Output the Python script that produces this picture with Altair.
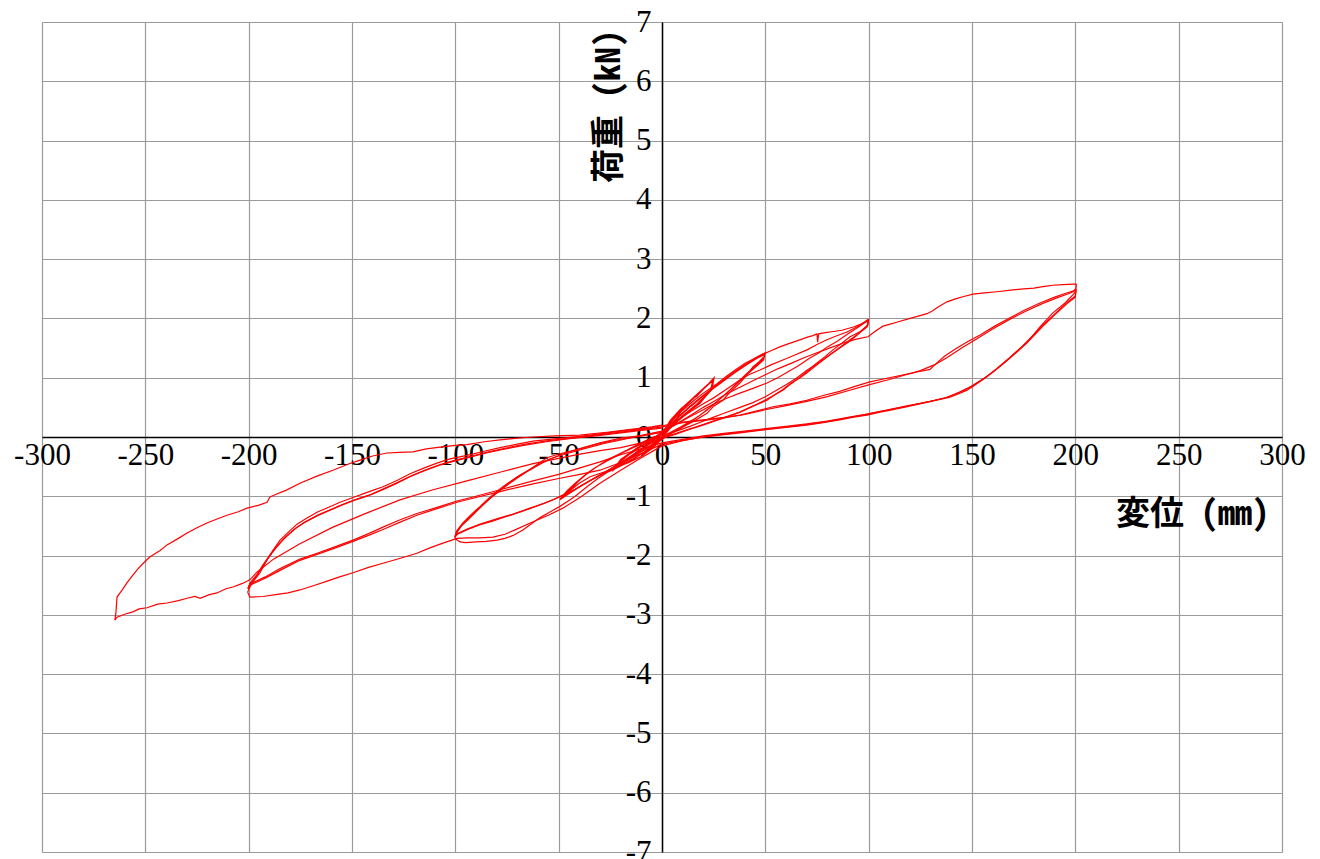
import altair as alt
import pandas as pd

# Load-displacement record of a cyclic test: displacement (mm), load (kN).
# Each branch is one loading or unloading leg, listed in test order.

cyc10 = [(0, 0.0), (5, 0.28), (10, 0.5), (9, 0.42), (5, 0.2), (0, 0.0), (-5, -0.15), (-10, -0.32),
         (-8, -0.24), (-4, -0.1), (0, 0.06), (5, 0.28), (10, 0.48), (8, 0.36), (4, 0.15), (0, -0.02),
         (-5, -0.18), (-10, -0.33), (-7, -0.2), (-3, -0.06), (0, 0.05)]

cyc25 = [(0, 0.05), (4, 0.28), (8.7, 0.46), (12.5, 0.58), (16.9, 0.69), (21, 0.84), (25.2, 1.0),
         (24.2, 0.8), (21, 0.68), (18.4, 0.57), (14, 0.45), (10.2, 0.34), (6, 0.22), (2.4, 0.12),
         (-3, -0.02), (-8, -0.17), (-14, -0.3), (-19, -0.42), (-24.2, -0.58), (-21, -0.44),
         (-16, -0.3), (-10, -0.16), (-4, -0.03), (0, 0.07), (5, 0.3), (10, 0.5), (15, 0.66),
         (20, 0.82), (24.8, 0.97), (24, 0.82), (19, 0.62), (14, 0.46), (8, 0.28), (2, 0.1),
         (-4, -0.06), (-10, -0.2), (-16, -0.35), (-24, -0.56), (-20, -0.4), (-14, -0.24),
         (-7, -0.1), (0, 0.06), (6, 0.32), (12, 0.54), (18, 0.74), (24.5, 0.95), (23.5, 0.78),
         (17, 0.56), (10, 0.36), (3, 0.14), (-3, -0.02), (-10, -0.22), (-17, -0.38),
         (-24, -0.57), (-20, -0.38), (-12, -0.18), (-5, -0.05), (0, 0.05)]

cyc50 = [(0, 0.05), (5.6, 0.33), (10, 0.45), (15.3, 0.61), (20, 0.74), (26.6, 0.9), (31, 1.02),
         (36.3, 1.15), (40, 1.24), (44.4, 1.32), (47, 1.37), (49.8, 1.42),
         (49.5, 1.36), (47, 1.27), (44, 1.18), (41, 1.05), (37.7, 0.91), (33, 0.76), (29.5, 0.62),
         (25, 0.52), (21.8, 0.4), (16, 0.28), (10.2, 0.17), (5, 0.07), (0.5, -0.02),
         (-5, -0.2), (-10.6, -0.34), (-16, -0.43), (-21.8, -0.51), (-28, -0.59), (-34.8, -0.67),
         (-40, -0.78), (-44, -0.89), (-47, -0.97), (-49.4, -1.06),
         (-47, -0.96), (-43, -0.84), (-40, -0.73), (-36.3, -0.61), (-31, -0.49), (-26.6, -0.39),
         (-21, -0.29), (-16.9, -0.22), (-12, -0.13), (-7.3, -0.05), (0.5, 0.07),
         (6, 0.28), (13, 0.5), (20, 0.7), (27, 0.88), (34, 1.06), (40, 1.2), (45, 1.31),
         (49.8, 1.4), (49.4, 1.33), (46, 1.22), (42, 1.1), (38, 0.97), (33, 0.8), (28, 0.64),
         (22, 0.46), (16, 0.31), (9, 0.17), (3, 0.06), (-2, -0.05), (-8, -0.24), (-14, -0.38),
         (-20, -0.49), (-27, -0.6), (-34, -0.72), (-40, -0.84), (-45, -0.95), (-49.2, -1.04),
         (-46, -0.91), (-42, -0.78), (-38, -0.66), (-33, -0.53), (-28, -0.43), (-22, -0.32),
         (-16, -0.21), (-10, -0.12), (-4, -0.02), (1, 0.07),
         (7, 0.3), (14, 0.52), (21, 0.72), (28, 0.9), (35, 1.08), (41, 1.22), (46, 1.33),
         (49.6, 1.39), (49.2, 1.3), (45, 1.17), (40, 1.02), (35, 0.86), (30, 0.7), (24, 0.52),
         (18, 0.36), (11, 0.2), (5, 0.08), (0, -0.04), (-6, -0.2), (-12, -0.33), (-19, -0.46),
         (-26, -0.58), (-33, -0.7), (-39, -0.82), (-44, -0.93), (-49, -1.05),
         (-45, -0.9), (-41, -0.76), (-37, -0.64), (-32, -0.51), (-26, -0.39), (-20, -0.28),
         (-14, -0.18), (-8, -0.08), (0, 0.07)]

# first excursion to +100 along the envelope
env100 = [(0, 0.07), (7, 0.31), (14, 0.53), (21, 0.73), (28, 0.92), (35, 1.1), (41, 1.24),
          (46, 1.34), (49.8, 1.41), (53, 1.46), (57, 1.52), (61, 1.57), (66, 1.63), (70, 1.68),
          (73, 1.71), (75, 1.74), (75.3, 1.6), (75.8, 1.74), (79, 1.76), (83, 1.78), (87, 1.8),
          (90, 1.83), (93, 1.86), (96, 1.9), (98, 1.94), (100, 1.99)]

unl100_a = [(100, 1.99), (99.6, 1.88), (97, 1.8), (94.4, 1.72), (91, 1.62), (86, 1.5), (82.7, 1.42),
            (78, 1.3), (75, 1.22), (70, 1.08), (66.8, 1.0), (62, 0.9), (58.5, 0.8), (54, 0.7),
            (50.8, 0.64), (44, 0.52), (37.7, 0.42), (30, 0.32), (24.7, 0.26), (18, 0.18),
            (13.5, 0.13), (7, 0.05), (0.5, -0.02)]

neg100_a = [(0.5, -0.02), (-5, -0.15), (-10.6, -0.26), (-16, -0.38), (-21, -0.5), (-26.6, -0.6),
            (-31, -0.7), (-36.3, -0.84), (-42, -1.0), (-45, -1.07), (-49.4, -1.17), (-54, -1.26),
            (-59, -1.36), (-63, -1.46), (-67.3, -1.57), (-72, -1.66), (-76, -1.71), (-79.8, -1.74),
            (-85, -1.76), (-90, -1.77), (-95, -1.78), (-97.7, -1.77), (-99.5, -1.73), (-100.2, -1.7)]

ret100_a = [(-100.2, -1.7), (-99.2, -1.6), (-96.3, -1.45), (-93, -1.33), (-91.5, -1.28), (-88, -1.17),
            (-84.7, -1.06), (-81, -0.95), (-77, -0.84), (-73, -0.74), (-68.7, -0.64), (-65, -0.57),
            (-62.4, -0.51), (-59, -0.43), (-55.7, -0.35), (-51, -0.3), (-47.9, -0.27),
            (-44.5, -0.24), (-40, -0.2), (-30, -0.1), (-20, -0.02), (-10.6, 0.02), (0.5, 0.08)]

pos100_b = [(0.5, 0.08), (6, 0.2), (13.5, 0.34), (20, 0.46), (24.7, 0.55), (31, 0.65), (37.7, 0.74),
            (44, 0.82), (50.8, 0.91), (56, 1.0), (61, 1.1), (66, 1.2), (71, 1.32), (76, 1.42),
            (80, 1.52), (85, 1.62), (90, 1.74), (94, 1.83), (97, 1.9), (99.8, 1.97)]

unl100_b = [(99.8, 1.97), (99.3, 1.86), (95, 1.74), (91, 1.64), (86, 1.51), (80, 1.36), (75, 1.24),
            (70, 1.12), (65, 0.99), (60, 0.88), (55, 0.78), (50, 0.68), (44, 0.58), (37.7, 0.5),
            (30, 0.4), (24.7, 0.33), (18, 0.24), (13.5, 0.18), (7, 0.1), (0.5, 0.02)]

neg100_b = [(0.5, 0.02), (-5, -0.1), (-10, -0.2), (-15, -0.32), (-20, -0.43), (-26, -0.56),
            (-32, -0.68), (-38, -0.8), (-44.5, -0.94), (-50.8, -1.03), (-57, -1.12), (-63.9, -1.2),
            (-72, -1.3), (-80, -1.38), (-88, -1.47), (-94, -1.55), (-99.2, -1.63), (-100.2, -1.68)]

ret100_b = [(-100.2, -1.68), (-99.3, -1.58), (-97, -1.48), (-94, -1.38), (-90, -1.25), (-86, -1.12),
            (-82, -1.0), (-78, -0.89), (-74, -0.79), (-70, -0.69), (-66, -0.6), (-62, -0.52),
            (-58, -0.44), (-54, -0.37), (-49, -0.3), (-44, -0.24), (-36, -0.16), (-26, -0.08),
            (-14, 0.0), (0, 0.1)]

pos100_c = [(0, 0.1), (7, 0.28), (13.5, 0.42), (20, 0.56), (25, 0.66), (31, 0.8), (37.7, 0.96),
            (42, 1.05), (47.4, 1.13), (53, 1.22), (58.5, 1.3), (64, 1.38), (70.2, 1.47), (75, 1.56),
            (79.8, 1.64), (84, 1.7), (89.5, 1.77), (94, 1.85), (97, 1.91), (99.7, 1.97)]

unl100_c = [(99.7, 1.97), (99.3, 1.88), (96, 1.78), (91, 1.69), (87, 1.58), (82.7, 1.47), (79, 1.36),
            (75, 1.25), (71, 1.13), (66.8, 1.01), (62.5, 0.9), (58.5, 0.79), (54, 0.7), (50.8, 0.62),
            (44, 0.52), (37.7, 0.42), (31, 0.34), (24.7, 0.27), (18, 0.19), (12, 0.12), (5, 0.04),
            (0, -0.02)]

neg100_c = [(0, -0.02), (-6, -0.15), (-12, -0.28), (-18, -0.4), (-24, -0.52), (-30, -0.64),
            (-36, -0.76), (-42, -0.88), (-47, -0.96), (-52, -1.05), (-58, -1.13), (-64, -1.21),
            (-70, -1.28), (-76, -1.35), (-82, -1.42), (-88, -1.48), (-94, -1.56), (-99, -1.64),
            (-100.2, -1.69)]

ret100_c = [(-100.2, -1.69), (-99.5, -1.62), (-97, -1.5), (-94, -1.4), (-90.5, -1.28), (-87, -1.16),
            (-83, -1.03), (-79, -0.92), (-75, -0.8), (-71, -0.7), (-67, -0.61), (-63, -0.53),
            (-59, -0.45), (-55, -0.38), (-50, -0.32), (-45, -0.27), (-38, -0.2), (-28, -0.11),
            (-17, -0.03), (-8, 0.03), (0, 0.08)]

# first excursion to +200 along the envelope
env200 = [(0, 0.08), (6, 0.2), (13.5, 0.36), (20, 0.5), (25, 0.6), (31, 0.72), (37.7, 0.84),
          (44, 0.95), (50, 1.05), (56, 1.15), (63, 1.25), (69, 1.34), (75, 1.42), (81, 1.5),
          (88, 1.59), (94, 1.65), (99.7, 1.69), (103, 1.78), (106.9, 1.87), (110, 1.9),
          (114, 1.94), (120, 2.0), (124, 2.04), (128.2, 2.08), (131, 2.13), (134, 2.2),
          (137.9, 2.28), (142, 2.33), (146, 2.37), (150.5, 2.41), (156, 2.43), (162, 2.45),
          (169.8, 2.48), (175, 2.5), (180, 2.51), (185, 2.54), (189.2, 2.56), (194, 2.57),
          (198.9, 2.58), (200.5, 2.58)]

unl200_a = [(200.5, 2.58), (200.2, 2.45), (198.9, 2.4), (195, 2.26), (189, 2.09), (183, 1.86),
            (176.6, 1.59), (172, 1.45), (167, 1.3), (162, 1.15), (157, 1.01), (152, 0.89),
            (147.6, 0.79), (143, 0.72), (139.4, 0.67), (130, 0.6), (118.6, 0.51), (110, 0.45),
            (105.5, 0.42), (99.2, 0.37), (92, 0.33), (86, 0.29), (78, 0.24), (70, 0.2), (60, 0.16),
            (48.9, 0.12), (37.7, 0.07), (30, 0.04), (20, 0.0), (10, -0.06), (0, -0.15)]

neg200_a = [(0, -0.15), (-10, -0.35), (-20, -0.56), (-30, -0.78), (-39.7, -1.02), (-48, -1.2),
            (-55, -1.32), (-62.4, -1.43), (-70, -1.55), (-76, -1.64), (-81.8, -1.69), (-88, -1.7),
            (-94, -1.7), (-99.2, -1.71), (-106, -1.79), (-112.3, -1.87), (-118.6, -1.96),
            (-127, -2.05), (-135, -2.13), (-142, -2.2), (-149.5, -2.29), (-156, -2.36),
            (-162, -2.43), (-168, -2.5), (-175.2, -2.58), (-181, -2.63), (-187, -2.66),
            (-193, -2.69), (-199.4, -2.7), (-200.5, -2.62)]

ret200_a = [(-200.5, -2.62), (-199.4, -2.53), (-197, -2.4), (-194.5, -2.29), (-191.1, -2.07),
            (-188, -1.9), (-184.8, -1.74), (-180, -1.58), (-176.6, -1.47), (-172, -1.37),
            (-166.9, -1.27), (-161, -1.18), (-155.8, -1.1), (-149.5, -1.02), (-144.7, -0.96),
            (-140, -0.9), (-135, -0.84), (-128, -0.73), (-121.9, -0.62), (-115, -0.52),
            (-108.9, -0.44), (-102.6, -0.37), (-94.4, -0.31), (-86, -0.24), (-78.4, -0.18),
            (-70, -0.12), (-62.4, -0.07), (-52, -0.03), (-39.7, 0.01), (-26.6, 0.07), (-15, 0.12),
            (-5, 0.16), (0, 0.19)]

pos200_b = [(0, 0.19), (10, 0.25), (20, 0.29), (30, 0.33), (37.7, 0.37), (46, 0.44), (53.7, 0.51),
            (62, 0.56), (70, 0.62), (78, 0.7), (86, 0.77), (93, 0.85), (100.6, 0.93), (110, 1.0),
            (118.6, 1.06), (124, 1.1), (129.7, 1.14), (133, 1.25), (137, 1.37), (142.7, 1.5),
            (148, 1.61), (153.9, 1.72), (161, 1.87), (168.4, 2.01), (176, 2.15), (182.9, 2.26),
            (190, 2.36), (195, 2.42), (198.9, 2.46), (200.3, 2.5)]

unl200_b = [(200.3, 2.5), (200, 2.38), (197, 2.3), (192, 2.14), (186, 1.94), (180, 1.73),
            (174, 1.52), (168, 1.33), (162, 1.15), (156, 0.99), (150, 0.86), (144, 0.76),
            (138, 0.67), (130, 0.6), (120, 0.53), (110, 0.46), (100, 0.39), (90, 0.33), (80, 0.27),
            (70, 0.22), (60, 0.18), (50, 0.14), (40, 0.1), (30, 0.06), (20, 0.02), (10, -0.04),
            (0, -0.1)]

neg200_b = [(0, -0.1), (-10, -0.2), (-20, -0.3), (-30, -0.42), (-39.7, -0.52), (-50, -0.63),
            (-62.4, -0.74), (-78.4, -0.89), (-90, -1.0), (-99.2, -1.08), (-110, -1.2),
            (-118.6, -1.29), (-127, -1.4), (-135, -1.52), (-142, -1.63), (-149.5, -1.74),
            (-158, -1.85), (-166.9, -1.96), (-175.2, -2.06), (-184.8, -2.22), (-192, -2.36),
            (-199.4, -2.48), (-200.3, -2.55)]

ret200_b = [(-200.3, -2.55), (-199.2, -2.46), (-196, -2.32), (-193, -2.15), (-189.5, -1.98),
            (-186, -1.83), (-182, -1.68), (-177, -1.53), (-172, -1.42), (-166, -1.31),
            (-160, -1.22), (-154, -1.13), (-148, -1.05), (-141, -0.97), (-135, -0.88),
            (-128, -0.77), (-121, -0.65), (-114, -0.55), (-107, -0.46), (-100, -0.39),
            (-92, -0.32), (-84, -0.25), (-76, -0.19), (-66, -0.12), (-55, -0.06), (-44, -0.02),
            (-30, 0.04), (-18, 0.09), (-6, 0.14), (0, 0.17)]

pos200_c = [(0, 0.17), (10, 0.24), (20, 0.28), (30, 0.32), (40, 0.38), (50, 0.46), (60, 0.53),
            (70, 0.6), (80, 0.68), (90, 0.78), (100, 0.88), (110, 0.97), (118, 1.05), (125, 1.12),
            (132, 1.22), (138, 1.34), (145, 1.5), (152, 1.65), (160, 1.82), (168, 1.98),
            (176, 2.12), (184, 2.25), (192, 2.36), (197, 2.42), (200.3, 2.47)]

unl200_c = [(200.3, 2.47), (200, 2.36), (196, 2.25), (190, 2.06), (184, 1.86), (178, 1.64),
            (172, 1.44), (166, 1.26), (160, 1.09), (154, 0.95), (148, 0.82), (142, 0.72),
            (136, 0.65), (128, 0.59), (118, 0.52), (108, 0.45), (98, 0.38), (88, 0.31),
            (78, 0.25), (68, 0.2), (58, 0.16), (48, 0.12), (38, 0.08), (28, 0.04), (18, -0.01),
            (8, -0.07), (0, -0.12)]

neg200_c = [(0, -0.12), (-10, -0.28), (-20, -0.43), (-30, -0.56), (-39.7, -0.63), (-50, -0.7),
            (-62.4, -0.79), (-78.4, -0.92), (-90, -1.02), (-99.2, -1.1), (-110, -1.22),
            (-118.6, -1.32), (-127, -1.44), (-135, -1.56), (-142, -1.66), (-149.5, -1.76),
            (-158, -1.87), (-166.9, -1.98), (-175.2, -2.08), (-184.8, -2.25), (-192, -2.38),
            (-199.4, -2.5), (-200.3, -2.56)]

ret200_c = [(-200.3, -2.56), (-199.3, -2.48), (-196.5, -2.36), (-193.5, -2.2), (-190, -2.02),
            (-187, -1.88), (-183, -1.72), (-178, -1.56), (-173, -1.44), (-167, -1.33),
            (-161, -1.24), (-155, -1.15), (-149, -1.07), (-142, -0.99), (-136, -0.9),
            (-129, -0.79), (-122, -0.67), (-115, -0.57), (-108, -0.48), (-101, -0.41),
            (-93, -0.34), (-85, -0.27), (-77, -0.21), (-67, -0.14), (-56, -0.08), (-45, -0.03),
            (-32, 0.02), (-20, 0.07), (-8, 0.12), (0, 0.15)]

# last excursion, past -200 down to about -265 mm
neg265 = [(0, -0.05), (-10, -0.1), (-20, -0.18), (-30, -0.23), (-39.7, -0.29), (-50, -0.36),
          (-62.4, -0.45), (-78, -0.59), (-94.4, -0.74), (-110.8, -0.89), (-126.8, -1.06),
          (-142.7, -1.28), (-159.2, -1.52), (-175.2, -1.8), (-188, -2.06), (-196, -2.28),
          (-199.4, -2.41), (-203, -2.47), (-207.6, -2.53), (-211, -2.56), (-215.3, -2.63),
          (-219, -2.66), (-223.5, -2.72), (-226, -2.69), (-229.8, -2.72), (-234, -2.76),
          (-239.5, -2.8), (-244, -2.82), (-249.2, -2.88), (-253, -2.9), (-256, -2.95),
          (-260, -2.99), (-263.7, -3.04), (-264.7, -3.09)]

ret265 = [(-264.7, -3.09), (-264.2, -2.95), (-263.7, -2.7), (-261, -2.57), (-258.9, -2.46),
          (-256.5, -2.35), (-254, -2.24), (-251, -2.13), (-247.7, -2.02), (-243, -1.92),
          (-239.5, -1.82), (-234, -1.71), (-229.8, -1.62), (-225, -1.53), (-220.2, -1.45),
          (-215, -1.38), (-210.5, -1.32), (-205, -1.26), (-200.8, -1.2), (-195, -1.15),
          (-191.1, -1.1), (-189.7, -1.01), (-187, -0.97), (-182, -0.9), (-175.2, -0.78),
          (-167, -0.66), (-159.2, -0.56), (-152, -0.46), (-146.1, -0.39), (-140, -0.32),
          (-133.1, -0.27), (-127, -0.26), (-120.5, -0.25), (-114, -0.2), (-107.4, -0.17),
          (-100, -0.14), (-94.4, -0.13), (-86, -0.08), (-78.4, -0.05), (-70, -0.02),
          (-62.4, 0.0), (-52, 0.02), (-39.7, 0.03), (-26.6, 0.08), (-15, 0.13), (-5, 0.17),
          (0, 0.2)]

branches = [cyc10, cyc25, cyc50, env100,
            unl100_a, neg100_a, ret100_a, pos100_b, unl100_b, neg100_b, ret100_b,
            pos100_c, unl100_c, neg100_c, ret100_c,
            env200, unl200_a, neg200_a, ret200_a, pos200_b, unl200_b, neg200_b, ret200_b,
            pos200_c, unl200_c, neg200_c, ret200_c, neg265, ret265]

x_ticks = list(range(-300, 301, 50))
y_ticks = list(range(-7, 8))

rows = []
for b, pts in enumerate(branches):
    for i, (dx, load) in enumerate(pts):
        rows.append({"disp": dx, "load": load, "leg": b, "seq": i})
df = pd.DataFrame(rows)

tick_font = "Liberation Serif"
title_font = "Noto Sans Mono CJK JP, Noto Sans CJK JP"

x_axis = alt.Axis(
    values=x_ticks, offset=-415, grid=True, gridColor="#9a9a9a", gridWidth=1.2,
    domainColor="#000000", domainWidth=1.5, ticks=False,
    labelFont=tick_font, labelFontSize=31, labelColor="#000000",
    labelBaseline="top", labelPadding=3, labelFlush=False, labelOverlap=False,
    # trailing no-break space nudges each label slightly left of its grid line
    labelExpr="'' + datum.value + '\u00a0'",
    title="変位 (mm)", titleFont=title_font, titleFontSize=34, titleFontWeight="bold",
    titleColor="#000000", titleX=1150, titleY=77, titleAlign="center", titleBaseline="middle",
)
y_axis = alt.Axis(
    values=y_ticks, offset=-620, grid=True, gridColor="#9a9a9a", gridWidth=1.2,
    domainColor="#000000", domainWidth=1.5, ticks=False,
    labelFont=tick_font, labelFontSize=31, labelColor="#000000",
    labelAlign="right", labelBaseline="middle", labelPadding=11, labelFlush=False,
    labelOverlap=False, labelExpr="'' + datum.value",
    title="荷重 (kN)", titleFont=title_font, titleFontSize=34, titleFontWeight="bold",
    titleColor="#000000", titleAngle=270, titleX=-53, titleY=84, titleAlign="center",
    titleBaseline="middle",
)

chart = (
    alt.Chart(df)
    .mark_line(color="#ff0000", strokeWidth=1.2)
    .encode(
        x=alt.X("disp:Q", scale=alt.Scale(domain=[-300, 300], nice=False, zero=False), axis=x_axis),
        y=alt.Y("load:Q", scale=alt.Scale(domain=[-7, 7], nice=False, zero=False), axis=y_axis),
        detail="leg:N",
        order="seq:Q",
    )
    .properties(
        width=1240, height=830,
        padding={"left": 42, "top": 22, "right": 38, "bottom": 7},
        autosize=alt.AutoSizeParams(type="none"),
        background="#ffffff",
    )
    .configure_view(strokeWidth=0)
)

chart.save("out.html", embed_options={"renderer": "svg", "actions": False})
